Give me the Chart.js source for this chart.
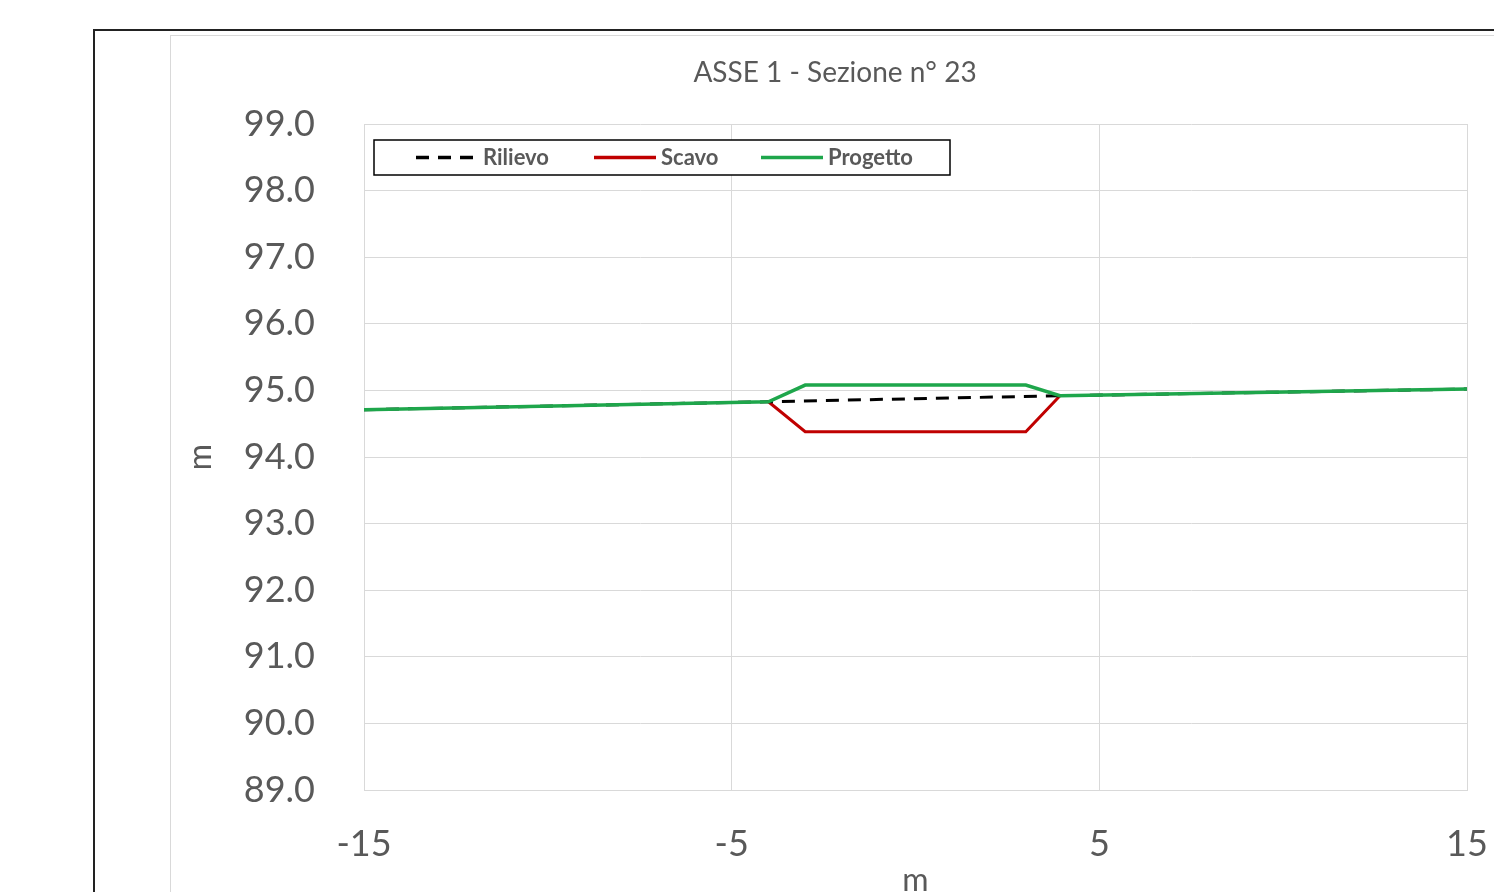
<!DOCTYPE html>
<html>
<head>
<meta charset="utf-8">
<script src="https://cdn.jsdelivr.net/npm/chart.js@4/dist/chart.umd.min.js"></script>
<style>
  html, body { margin: 0; padding: 0; background: #fff; overflow: hidden; width: 1494px; height: 892px; }
  #outer { position: absolute; left: 93px; top: 29px; width: 1600px; height: 1000px; border: 2px solid #222; }
  #inner { position: absolute; left: 170px; top: 35px; width: 1500px; height: 1000px; border: 1px solid #d9d9d9; }
  #chart { position: absolute; left: 171px; top: 36px; }
</style>
</head>
<body>
<div id="outer"></div>
<div id="inner"></div>
<canvas id="chart" width="1400" height="860"></canvas>
<script>
  "use strict";

  const FONT = "Lato, 'Open Sans', sans-serif";
  const GREY = "#595959";

  // Data (distance m, elevation m)
  const seriesNames = ["Rilievo", "Scavo", "Progetto"];
  const rilievoX = [-15, -4.0, 3.93, 15];
  const rilievoY = [94.71, 94.83, 94.92, 95.02];
  const scavoX = [-4.0, -3.0, 3.0, 3.93];
  const scavoY = [94.83, 94.38, 94.38, 94.92];
  const progettoX = [-15, -4.0, -3.0, 3.0, 3.93, 15];
  const progettoY = [94.71, 94.83, 95.08, 95.08, 94.92, 95.02];
  const xTicks = [-15, -5, 5, 15];
  const yTicks = [89, 90, 91, 92, 93, 94, 95, 96, 97, 98, 99];

  const pts = (xs, ys) => xs.map((x, i) => ({ x, y: ys[i] }));

  // Boxed legend inside the plot, top-left
  const boxLegend = {
    id: "boxLegend",
    afterDatasetsDraw(chart) {
      const ctx = chart.ctx;
      const a = chart.chartArea;
      const x0 = a.left + 10, y0 = a.top + 16, w = 576, h = 35;
      ctx.save();
      ctx.fillStyle = "#fff";
      ctx.fillRect(x0, y0, w, h);
      ctx.strokeStyle = "#000";
      ctx.lineWidth = 1.5;
      ctx.strokeRect(x0, y0, w, h);
      const starts = [42, 220, 387];
      ctx.font = "bold 22px " + FONT;
      ctx.textBaseline = "middle";
      chart.data.datasets.forEach((ds, i) => {
        const sx = x0 + starts[i], cy = y0 + h / 2;
        ctx.beginPath();
        ctx.strokeStyle = ds.borderColor;
        ctx.lineWidth = 3.5;
        ctx.setLineDash(ds.borderDash || []);
        ctx.moveTo(sx, cy);
        ctx.lineTo(sx + 62, cy);
        ctx.stroke();
        ctx.setLineDash([]);
        ctx.fillStyle = GREY;
        ctx.fillText(ds.label, sx + 67, cy);
      });
      ctx.restore();
    }
  };

  new Chart(document.getElementById("chart"), {
    type: "line",
    data: {
      datasets: [
        { label: seriesNames[0], data: pts(rilievoX, rilievoY), borderColor: "#000", borderWidth: 3, borderDash: [13, 9], order: 1 },
        { label: seriesNames[1], data: pts(scavoX, scavoY), borderColor: "#c00000", borderWidth: 3, order: 2 },
        { label: seriesNames[2], data: pts(progettoX, progettoY), borderColor: "#1ea64b", borderWidth: 3.5, order: 0 }
      ]
    },
    options: {
      responsive: false,
      animation: false,
      elements: { point: { radius: 0 }, line: { tension: 0 } },
      layout: { padding: { left: 32, right: 104, top: 0, bottom: 0 } },
      plugins: {
        legend: { display: false },
        tooltip: { enabled: false },
        title: {
          display: true,
          text: "ASSE 1 - Sezione n° 23",
          color: GREY,
          font: { family: FONT, size: 28, weight: "normal" },
          padding: { top: 20, bottom: 34.4 }
        }
      },
      scales: {
        x: {
          type: "linear",
          min: xTicks[0],
          max: xTicks[xTicks.length - 1],
          afterBuildTicks: (s) => { s.ticks = xTicks.map(v => ({ value: v })); },
          afterFit: (s) => { s.height = 106; },
          grid: { color: "#d9d9d9", drawTicks: false },
          border: { color: "#d9d9d9" },
          ticks: { color: GREY, font: { family: FONT, size: 36 }, padding: 33 },
          title: { display: true, text: "m", color: GREY, font: { family: FONT, size: 32 }, padding: { top: 0, bottom: -4 } }
        },
        y: {
          min: yTicks[0],
          max: yTicks[yTicks.length - 1],
          afterBuildTicks: (s) => { s.ticks = yTicks.map(v => ({ value: v })); },
          afterFit: (s) => { s.width = 161; },
          grid: { color: "#d9d9d9", drawTicks: false },
          border: { color: "#d9d9d9" },
          ticks: { color: GREY, font: { family: FONT, size: 36 }, padding: 49, callback: (v) => v.toFixed(1) },
          title: { display: true, text: "m", color: GREY, font: { family: FONT, size: 32 }, padding: { top: -22, bottom: 0 } }
        }
      }
    },
    plugins: [boxLegend]
  });
</script>
</body>
</html>
